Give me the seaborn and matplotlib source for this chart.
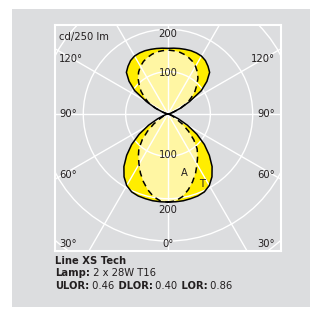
import numpy as np
import pandas as pd
import matplotlib
matplotlib.use("Agg")
import matplotlib.pyplot as plt
import seaborn as sns
from matplotlib.patches import Circle, Rectangle

# photometric angles (deg), 0 = down, 180 = up
angles = [0, 5, 10, 15, 20, 25, 30, 35, 40, 45, 50, 55, 60, 65, 70, 75, 80, 85, 90,
          95, 100, 105, 110, 115, 120, 125, 130, 135, 140, 145, 150, 155, 160, 165, 170, 175, 180]
# transverse plane T (solid), cd/250 lm
cd_T = [208, 208, 208, 207, 206, 203, 195, 181, 162, 138, 112, 83, 53, 27, 11, 5, 2, 1, 0,
        0, 2, 5, 14, 33, 59, 96, 120, 139, 147, 154, 158, 159, 159, 158, 157, 156, 155]
# axial plane A (dashed)
cd_A = [208, 206, 198, 185, 170, 154, 137, 122, 107, 86, 63, 41, 22, 12, 5, 2, 1, 0, 0,
        0, 2, 5, 14, 32, 53, 67, 83, 96, 110, 121, 130, 137, 142, 146, 149, 150, 151]
rings = [100, 200, 300, 400]
spokes = [0, 30, 60, 90, 120, 150]

W, H = 310, 309
S = 0.4235  # px per cd
gray = "#dcdddf"
ink = "#231f20"

sns.set_theme(style="white", rc={"axes.facecolor": gray, "figure.facecolor": "white"})
plt.rcParams['font.family'] = ['DejaVu Sans']


def closed_xy(cd):
    th = np.radians(angles)
    r = np.array(cd, dtype=float)
    x = np.concatenate([r * np.sin(th), -(r * np.sin(th))[::-1]])
    y = np.concatenate([-r * np.cos(th), (-r * np.cos(th))[::-1]])
    return x, y


xT, yT = closed_xy(cd_T)
xA, yA = closed_xy(cd_A)
df = pd.concat([
    pd.DataFrame({"x": xT, "y": yT, "plane": "T"}),
    pd.DataFrame({"x": xA, "y": yA, "plane": "A"}),
], ignore_index=True)

fig = plt.figure(figsize=(W / 100, H / 100), dpi=100)
fig.add_artist(Rectangle((12 / W, 1 - 307 / H), 298 / W, 298 / H, transform=fig.transFigure,
                         facecolor=gray, edgecolor="none", zorder=0))
ax = fig.add_axes([55 / W, 1 - 251 / H, 226 / W, 226 / H])
ax.set_facecolor(gray)

# fills
ax.fill(xT, yT, color="#ffed00", lw=0, zorder=1)
ax.fill(xA, yA, color="#fff6a3", lw=0, zorder=1.1)

# grid on top of the fills
for r in rings:
    ax.add_patch(Circle((0, 0), r, fill=False, edgecolor="white", lw=1.0, zorder=2))
for a in spokes:
    t = np.radians(a)
    L = 1000
    ax.plot([-L * np.sin(t), L * np.sin(t)], [L * np.cos(t), -L * np.cos(t)],
            color="white", lw=1.0, zorder=2)

sns.lineplot(data=df, x="x", y="y", hue="plane", style="plane", sort=False, estimator=None,
             palette={"T": "black", "A": "black"}, dashes={"T": "", "A": (4, 3)},
             linewidth=1.1, legend=False, ax=ax, zorder=3)

ax.set_xlim(-113 / S, 113 / S)
ax.set_ylim(-137 / S, 89 / S)
ax.set_xlabel("")
ax.set_ylabel("")
ax.set_xticks([])
ax.set_yticks([])
for sp in ax.spines.values():
    sp.set_color("white")
    sp.set_linewidth(1.5)


def px(x, y):
    return x / W, 1 - y / H


fs = 7.2
kw = dict(fontsize=fs, color=ink, va="center")
fig.text(*px(59, 37), "cd/250 lm", ha="left", **kw)
for lab, y in [("120°", 59), ("90°", 114), ("60°", 175), ("30°", 244)]:
    fig.text(*px(59, 114 if lab == "90°" else y), lab, ha="left", **kw)
    fig.text(*px(275, y), lab, ha="right", **kw)
fig.text(*px(168, 244), "0°", ha="center", **kw)
for lab, y in [("200", 34), ("100", 73), ("100", 155), ("200", 210)]:
    fig.text(*px(168, y), lab, ha="center", **kw)
fig.text(*px(184, 173), "A", ha="center", **kw)
fig.text(*px(202, 184), "T", ha="center", **kw)

# caption with mixed weights
renderer = fig.canvas.get_renderer()
lines = [
    (261, [("Line XS Tech", "bold")]),
    (273, [("Lamp:", "bold"), (" 2 x 28W T16", "normal")]),
    (286, [("ULOR:", "bold"), (" 0.46", "normal"), (" DLOR:", "bold"), (" 0.40", "normal"),
           (" LOR:", "bold"), (" 0.86", "normal")]),
]
for y, parts in lines:
    x = 55
    for s, w in parts:
        t = fig.text(*px(x, y), s, ha="left", fontweight=w, **kw)
        x += t.get_window_extent(renderer).width

fig.savefig("out.png", dpi=100)
